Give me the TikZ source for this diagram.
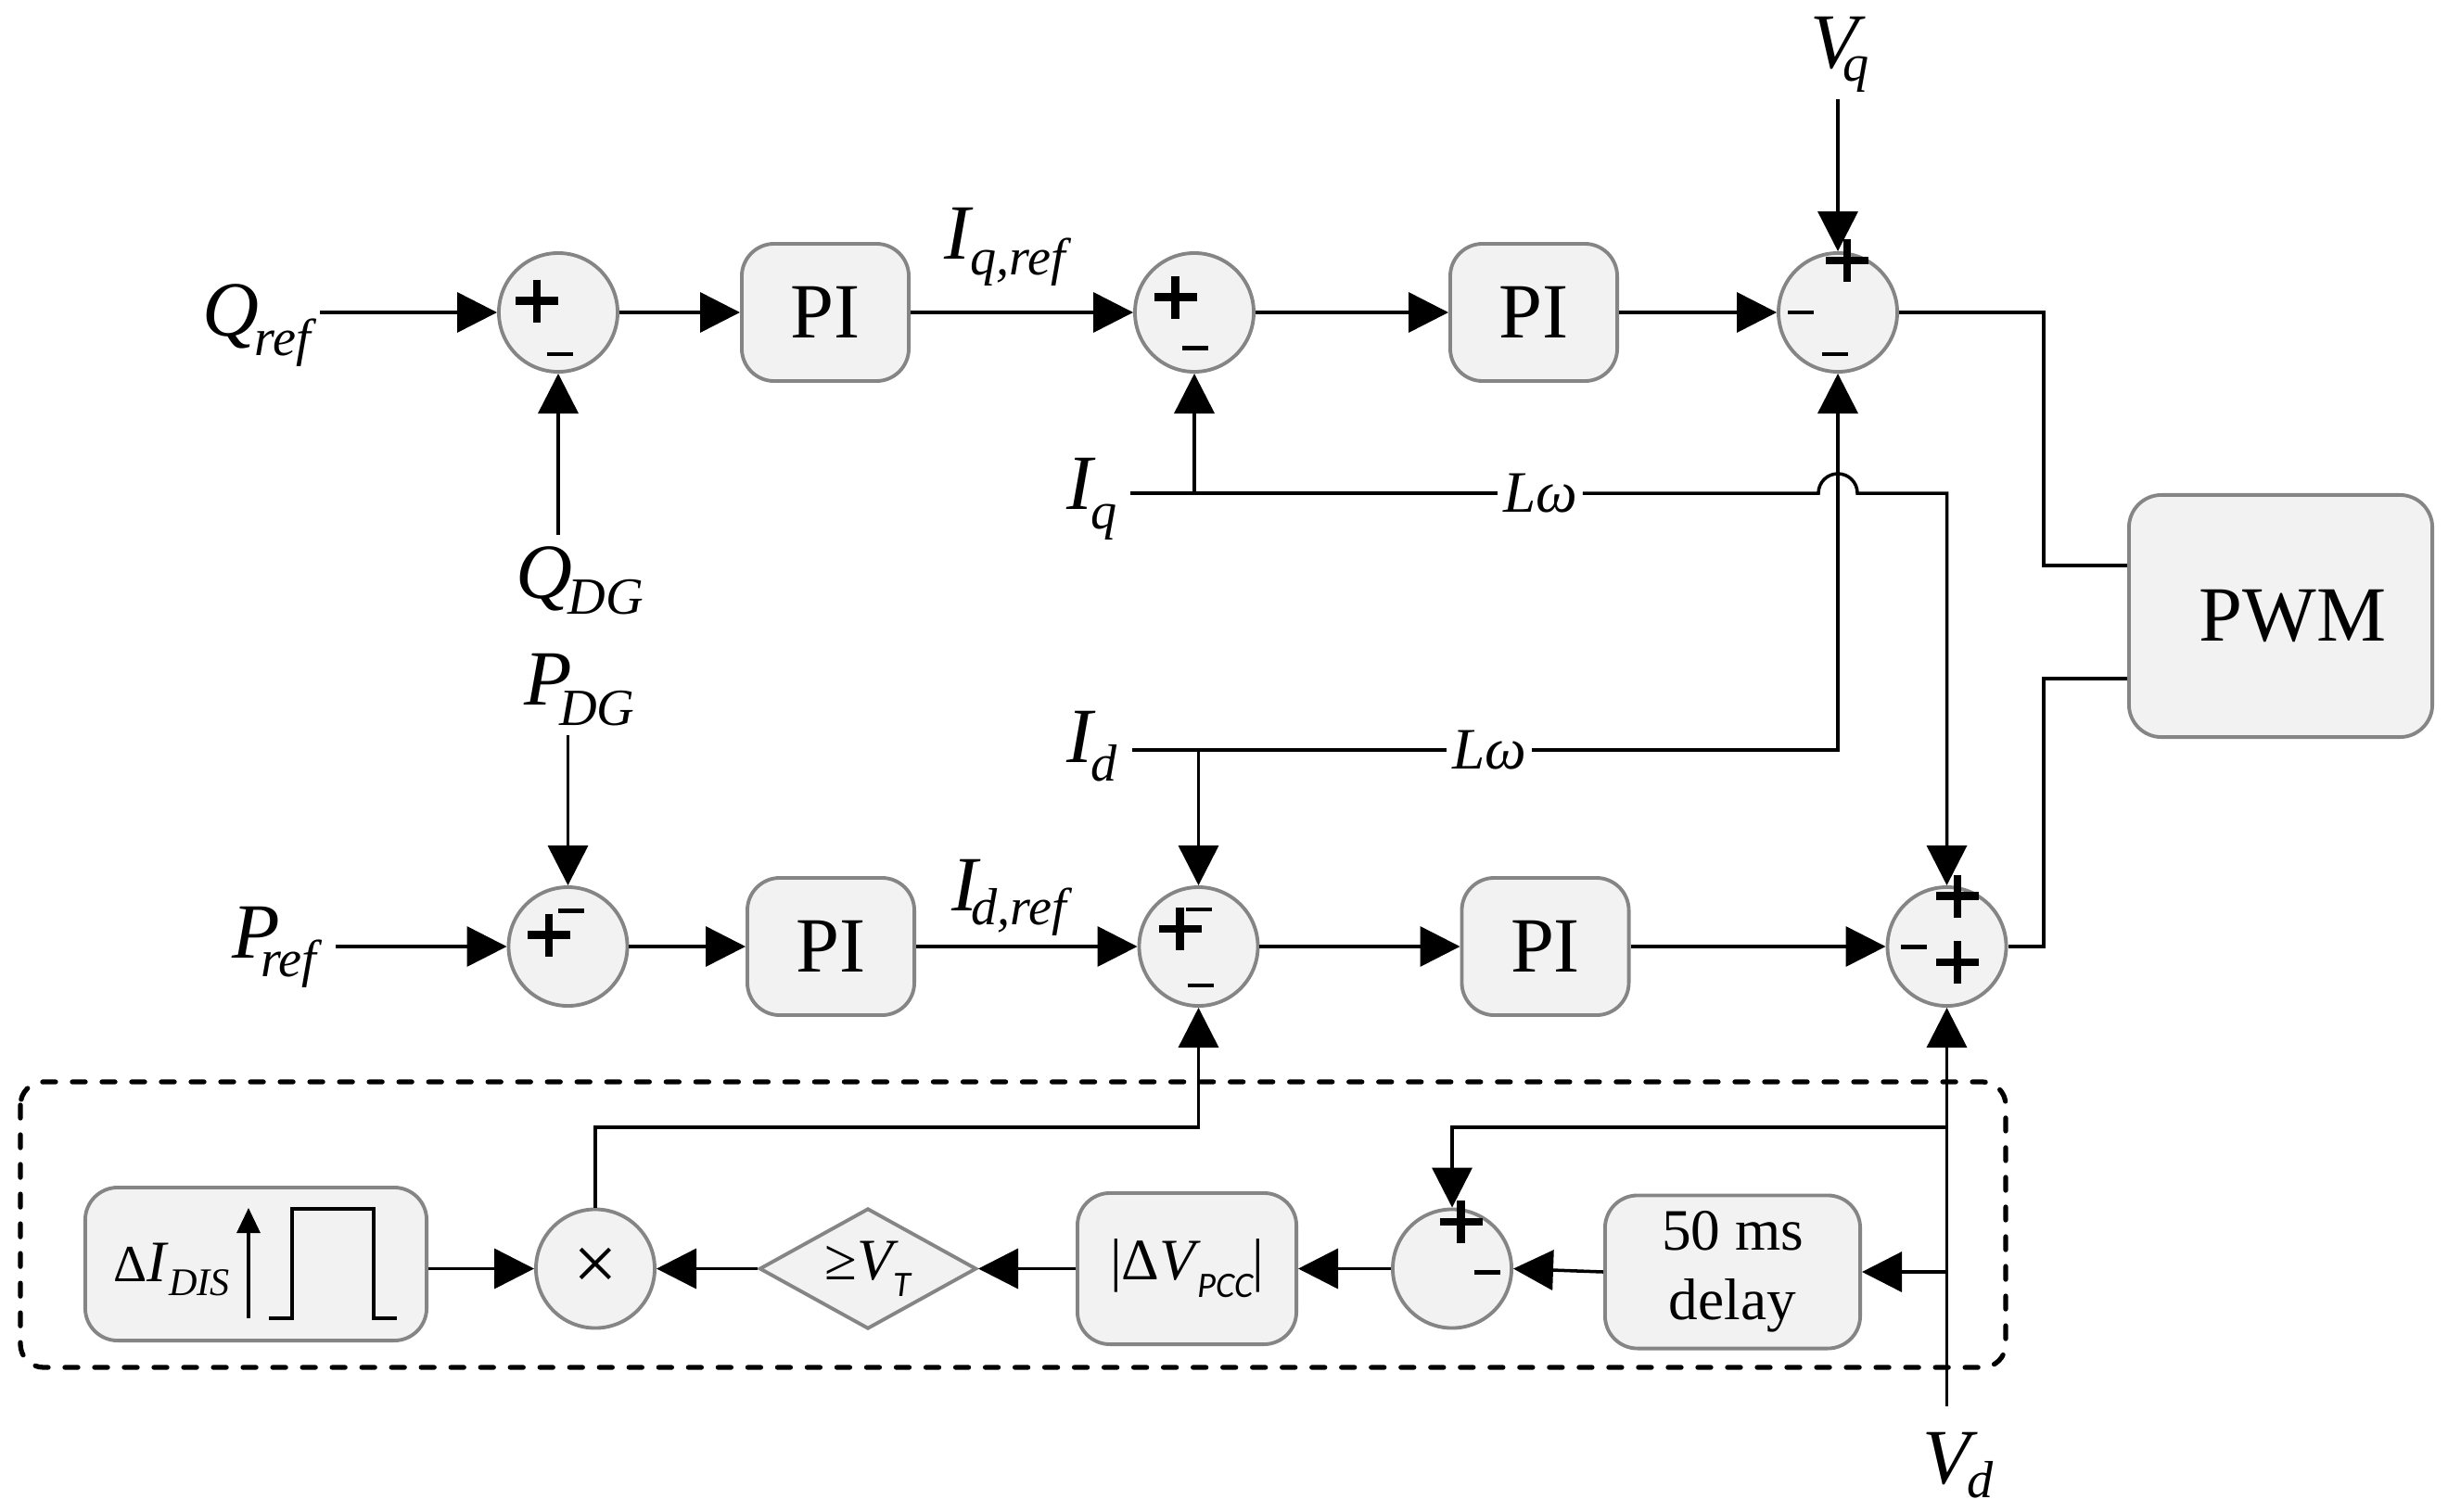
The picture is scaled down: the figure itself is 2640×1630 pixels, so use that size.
\documentclass[tikz,border=0pt]{standalone}
\usepackage{fontspec}
\setmainfont{Liberation Serif}
\newfontfamily\calfont{Carlito}
\usetikzlibrary{arrows.meta,shapes.geometric,calc}
\definecolor{fillgray}{HTML}{F2F2F2}
\definecolor{bordergray}{HTML}{858585}
% main letter, kern, drop, subscript
\newcommand\lab[4]{\textit{#1}\kern#2\raisebox{-#3}{\fontsize{16}{16}\selectfont\textit{#4}}}
\begin{document}
\begin{tikzpicture}[x=0.01cm,y=-0.01cm,
  blk/.style={draw=bordergray, fill=fillgray, line width=1.1pt, rounded corners=0.35cm, inner sep=0pt, font=\fontsize{24}{26}\selectfont},
  piblk/.style={blk, minimum width=1.80cm, minimum height=1.48cm},
  sumc/.style={circle, draw=bordergray, fill=fillgray, line width=1.1pt, minimum size=1.28cm, inner sep=0pt},
  diam/.style={diamond, aspect=1.8, draw=bordergray, fill=fillgray, line width=1.1pt, inner sep=0pt, minimum width=2.34cm, minimum height=1.30cm, font=\fontsize{18}{18}\selectfont},
  arr/.style={line width=1pt, -{Triangle[length=0.43cm, width=0.43cm]}},
  ln/.style={line width=1pt},
  lbl/.style={inner sep=0pt, font=\fontsize{24}{26}\selectfont},
  lw/.style={inner xsep=1.5pt, inner ysep=0pt, font=\fontsize{18}{18}\selectfont},
  dashbox/.style={line width=1.5pt, dash pattern=on 0.14cm off 0.18cm, line cap=round, rounded corners=0.25cm},
  plus/.pic={\draw[line width=2.3pt] (-23,0) -- (23,0) (0,-23) -- (0,23);},
  minus/.pic={\draw[line width=1.4pt] (-14,0) -- (14,0);}
]
\useasboundingbox (0,0) rectangle (2640,1630);

% dashed frame
\draw[dashbox] (22,1167) rectangle (2163,1475);

% ---- blocks ----
\node[sumc] (S1) at (602,337) {};
\node[piblk] (P1) at (890,337) {PI};
\node[sumc] (S2) at (1288,337) {};
\node[piblk] (P2) at (1654,337) {PI};
\node[sumc] (S3) at (1982,337) {};
\node[blk, minimum width=3.27cm, minimum height=2.61cm] (PWM) at (2459.5,664.5) {\kern0.26cm PWM};

\node[sumc] (S5) at (612.5,1021) {};
\node[piblk] (P3) at (896,1021) {PI};
\node[sumc] (S4) at (1292.5,1021) {};
\node[piblk] (P4) at (1666.5,1021) {PI};
\node[sumc] (S6) at (2099.5,1021) {};

\node[blk, minimum width=3.68cm, minimum height=1.65cm] (DI) at (276,1363.5) {};
\node[sumc, font=\fontsize{24}{24}\selectfont] (MUL) at (642,1368.5) {×};
\node[diam] (DIA) at (936,1368.5) {≥\textit{V}\kern-1.5pt\raisebox{-5pt}{\fontsize{11}{11}\calfont\itshape T}};
\node[blk, minimum width=2.36cm, minimum height=1.63cm, font=\fontsize{18}{18}\selectfont] (DV) at (1280,1368.5) {|Δ\textit{V}\kern-1pt\raisebox{-5.4pt}{\fontsize{11}{11}\calfont\itshape PCC}\kern-0.5pt|};
\node[sumc] (S7) at (1566,1368.5) {};
\node[blk, minimum width=2.75cm, minimum height=1.65cm, align=center, font=\fontsize{18}{21.2}\selectfont] (DEL) at (1868.5,1372) {50 ms\\delay};

% ---- labels ----
\node[lbl, anchor=base west] (Qref) at (218,362) {\lab{Q}{-1.4pt}{6pt}{ref}};
\node[lbl, anchor=base west] (QDG) at (556,645) {\lab{Q}{-1.5pt}{5pt}{DG}};
\node[lbl, anchor=base west] (Iqref) at (1018,279) {\lab{I}{-1pt}{5pt}{q,ref}};
\node[lbl, anchor=base west] (Iq) at (1150,549) {\lab{I}{-1.5pt}{6pt}{q}};
\node[lbl, anchor=base west] (Id) at (1150,822) {\lab{I}{-1.7pt}{5.7pt}{d}};
\node[lbl, anchor=base west] (Vq) at (1952,73) {\lab{V}{-7pt}{4pt}{q}};
\node[lbl, anchor=base west] (PDG) at (565,760) {\lab{P}{-4pt}{6.3pt}{DG}};
\node[lbl, anchor=base west] (Pref) at (250,1033) {\lab{P}{-6pt}{5.7pt}{ref}};
\node[lbl, anchor=base west] (Idref) at (1026,982) {\lab{I}{-3pt}{4.3pt}{d,ref}};
\node[lbl, anchor=base west] (Vd) at (2073,1600) {\lab{V}{-3.4pt}{4.3pt}{d}};
\node[lw] (Lw1) at (1661,532) {\textit{Lω}};
\node[lw] (Lw2) at (1606,809) {\textit{Lω}};
\node[anchor=base west, inner sep=0pt] (DItxt) at (122,1382) {{\fontsize{16}{16}\selectfont Δ}{\fontsize{18}{18}\selectfont\textit{I}}\raisebox{-4.3pt}{\fontsize{12}{12}\selectfont\textit{DIS}}};

% step pulse inside the Delta I box
\draw[line width=0.9pt, -{Triangle[length=0.27cm, width=0.25cm]}] (268,1422) -- (268,1303);
\draw[line width=1.2pt] (290,1422) -- (315,1422) -- (315,1304) -- (403,1304) -- (403,1422) -- (428,1422);

% ---- signs ----
\pic at ($(S1)+(-23,-12.5)$) {plus};
\pic at ($(S1)+(1.5,45)$) {minus};
\pic at ($(S2)+(-20.5,-16.5)$) {plus};
\pic at ($(S2)+(0.5,38.5)$) {minus};
\pic at ($(S3)+(10,-56)$) {plus};
\pic at ($(S3)+(-40,0)$) {minus};
\pic at ($(S3)+(-3.5,45)$) {minus};
\pic at ($(S5)+(-20.5,-12.5)$) {plus};
\pic at ($(S5)+(3.5,-38.5)$) {minus};
\pic at ($(S4)+(-20,-19)$) {plus};
\pic at ($(S4)+(0,-40)$) {minus};
\pic at ($(S4)+(2,42)$) {minus};
\pic at ($(S6)+(11.5,-54.5)$) {plus};
\pic at ($(S6)+(-36,0.6)$) {minus};
\pic at ($(S6)+(11.5,17)$) {plus};
\pic at ($(S7)+(9.5,-50.5)$) {plus};
\pic at ($(S7)+(37.5,4)$) {minus};

% ---- free ends ----
\coordinate (qA) at (345,337);
\coordinate (qdgA) at (602,577);
\coordinate (vqA) at (1982,107);
\coordinate (iqA) at (1219,532);
\coordinate (idA) at (1221,809);
\coordinate (prefA) at (362,1021);
\coordinate (pdgA) at (612.5,793);
\coordinate (vdA) at (2099.5,1517);
\coordinate (busX) at (2204,0);
\coordinate (y610) at (0,610);
\coordinate (y732) at (0,732);
\coordinate (fbY) at (0,1216);

% ---- connectors: top row ----
\draw[arr] (qA) -- (S1.west);
\draw[arr] (qdgA) -- (S1.south);
\draw[arr] (S1.east) -- (P1.west);
\draw[arr] (P1.east) -- (S2.west);
\draw[arr] (S2.east) -- (P2.west);
\draw[arr] (P2.east) -- (S3.west);
\draw[arr] (vqA) -- (S3.north);
\draw[ln] (S3.east) -| (busX |- y610) -- (PWM.west |- y610);
\draw[ln] (PWM.west |- y732) -| (busX |- S6.east) -- (S6.east);

% Iq path with hop
\draw[ln] (iqA) -- (Lw1.west);
\draw[arr] (S2 |- iqA) -- (S2.south);
\draw[arr] (Lw1.east) -- ($(S3 |- iqA)+(-21,0)$) arc[start angle=180, end angle=0, radius=0.21cm] -- (S6 |- iqA) -- (S6.north);

% Id path
\draw[ln] (idA) -- (Lw2.west);
\draw[arr] (S4 |- idA) -- (S4.north);
\draw[arr] (Lw2.east) -| (S3.south);

% ---- bottom row ----
\draw[arr] (prefA) -- (S5.west);
\draw[arr] (pdgA) -- (S5.north);
\draw[arr] (S5.east) -- (P3.west);
\draw[arr] (P3.east) -- (S4.west);
\draw[arr] (S4.east) -- (P4.west);
\draw[arr] (P4.east) -- (S6.west);
\draw[arr] (vdA) -- (S6.south);

% ---- detection loop ----
\draw[arr] (MUL.north) |- (S4 |- fbY) -- (S4.south);
\draw[arr] (S6 |- fbY) -| (S7.north);
\draw[arr] (S6 |- DEL) -- (DEL.east);
\draw[arr] (DEL.west) -- (S7.east);
\draw[arr] (S7.west) -- (DV.east);
\draw[arr] (DV.west) -- (DIA.east);
\draw[arr] (DIA.west) -- (MUL.east);
\draw[arr] (DI.east |- MUL) -- (MUL.west);
\end{tikzpicture}
\end{document}
